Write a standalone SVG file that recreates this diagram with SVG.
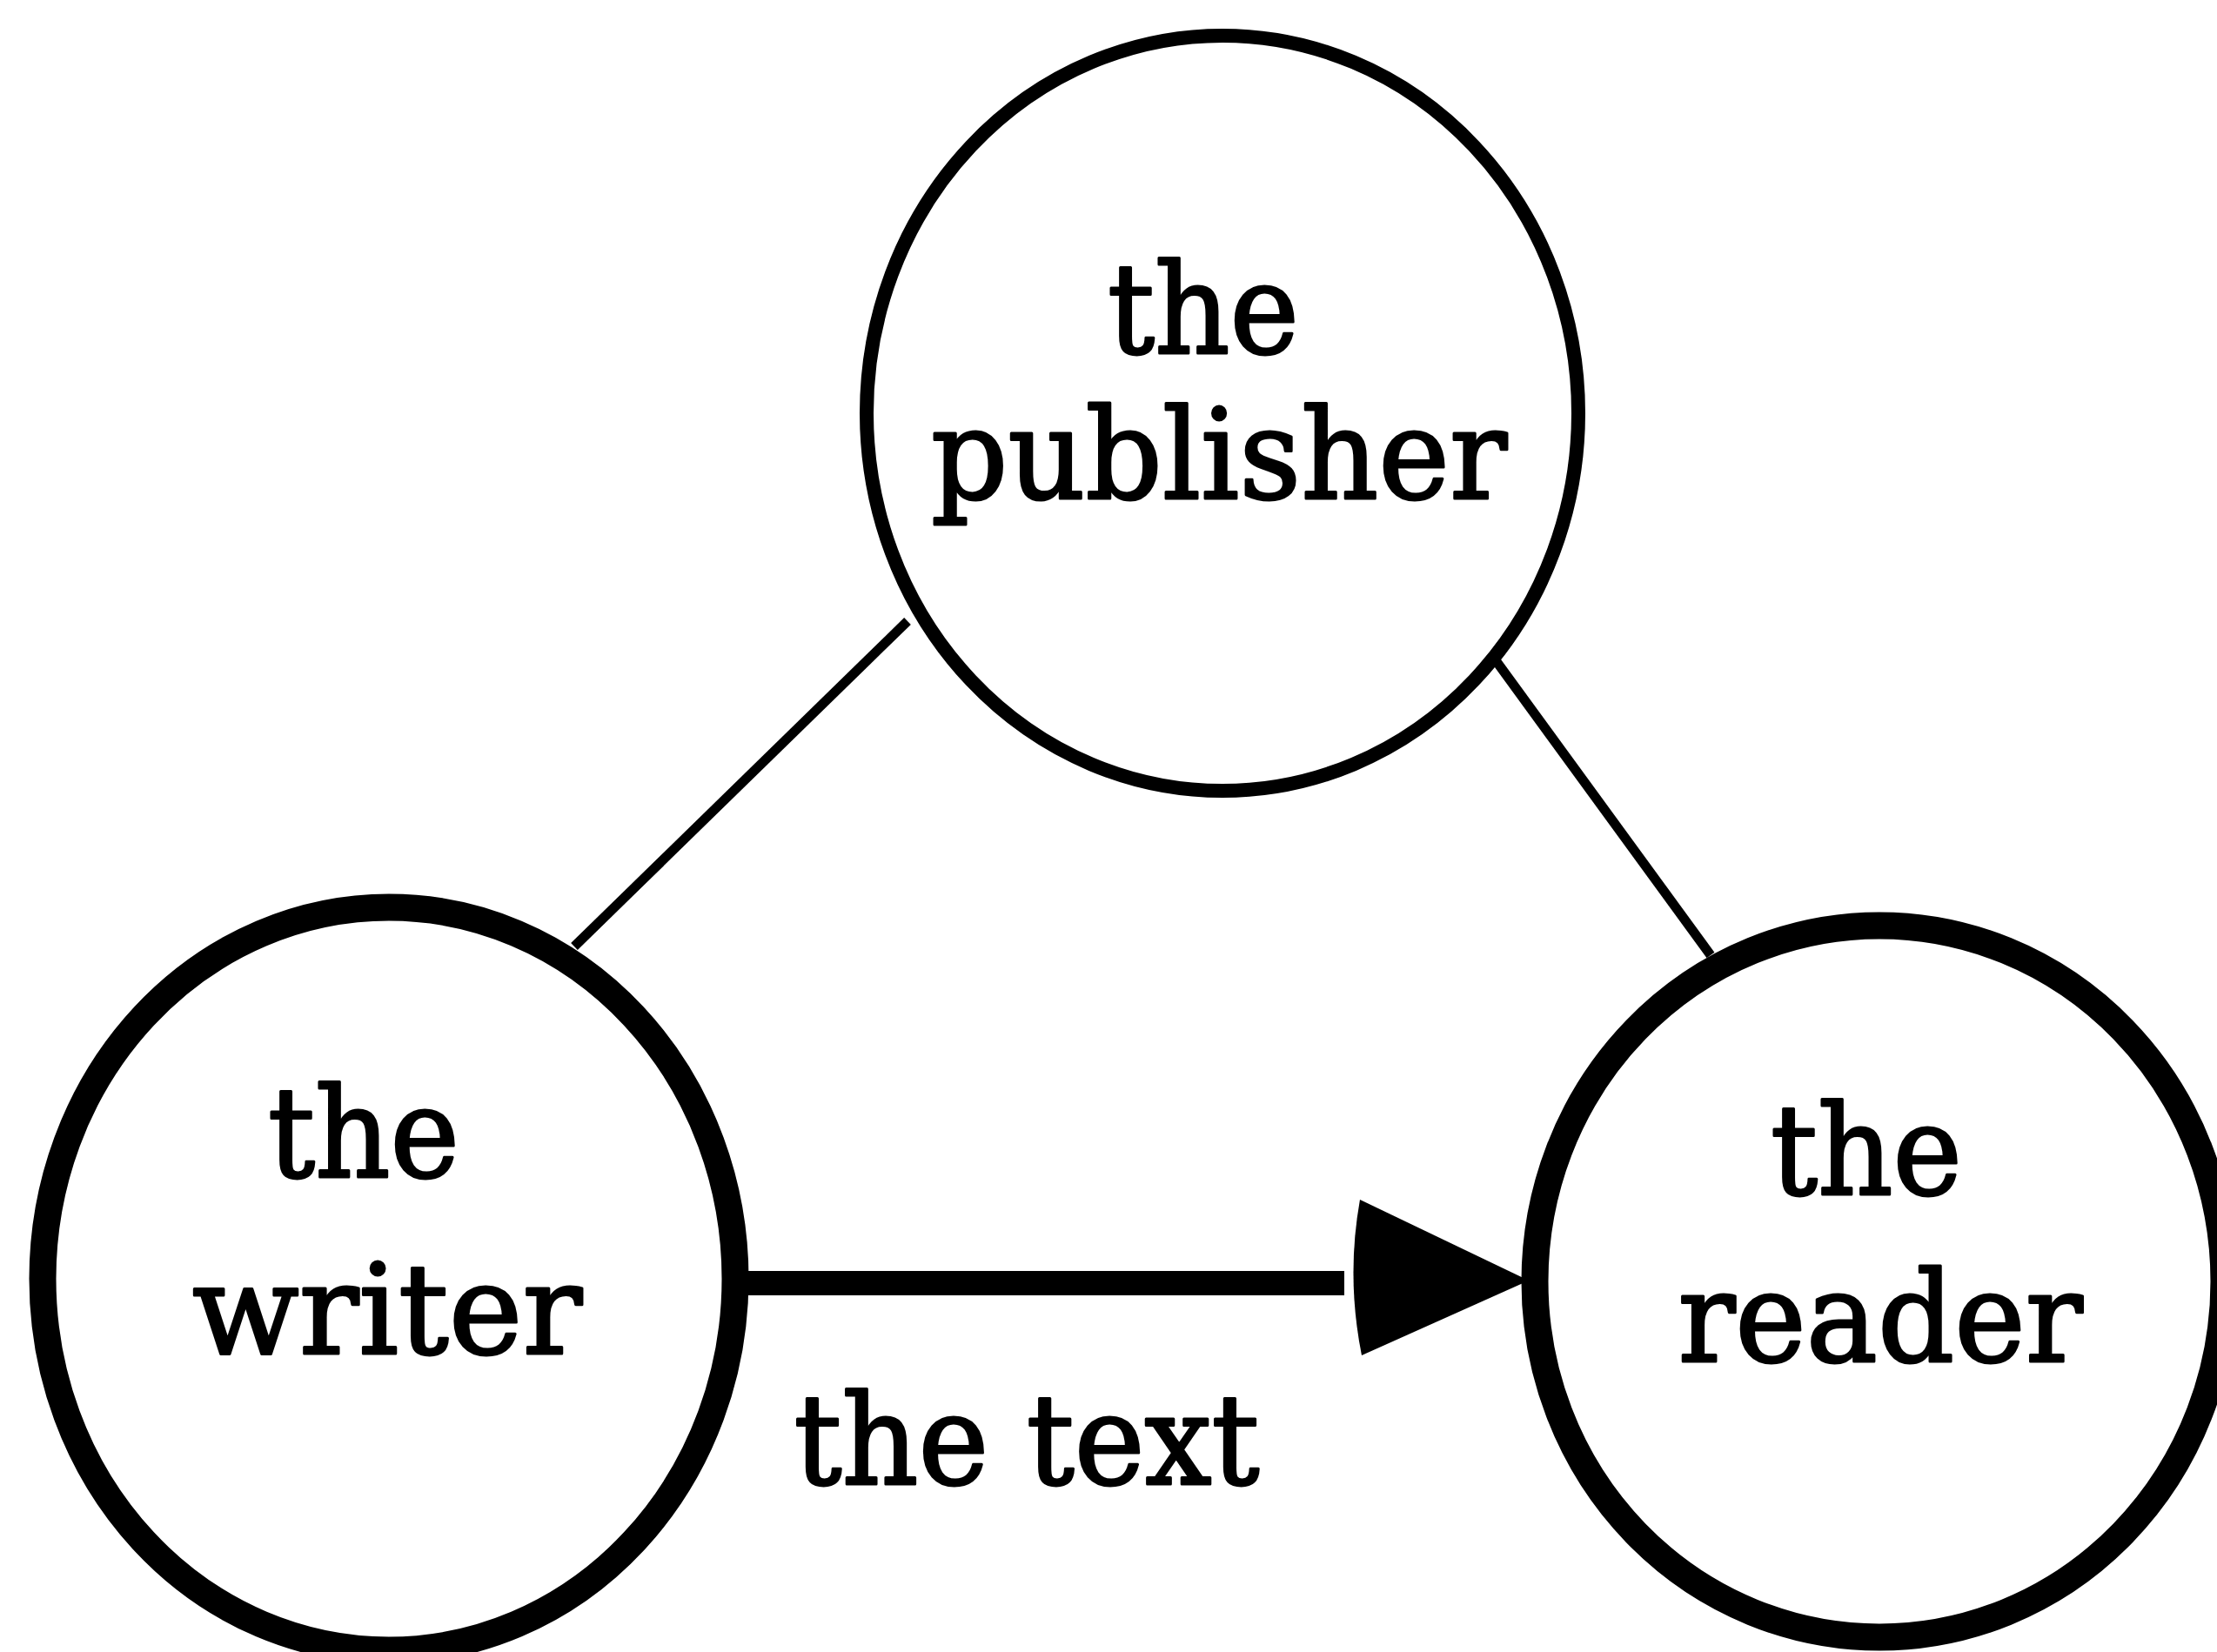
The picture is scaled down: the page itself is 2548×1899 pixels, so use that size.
<svg xmlns="http://www.w3.org/2000/svg" width="2548" height="1899" viewBox="0 0 2548 1899">
  <style>
    .node-thin { fill: #fff; stroke: #000; stroke-width: 16; }
    .node-thick { fill: #fff; stroke: #000; stroke-width: 31; }
    .link { stroke: #000; stroke-width: 11; fill: none; }
    .flow { stroke: #000; stroke-width: 28; fill: none; }
    .label { font-family: "DejaVu Serif", "Liberation Serif", serif; font-size: 145px; fill: #000; stroke: #000; stroke-width: 3; stroke-linejoin: round; text-anchor: middle; }
  </style>
  <defs>
    <!-- filled triangular head with a slightly bowed base -->
    <marker id="head" markerUnits="userSpaceOnUse" markerWidth="240" markerHeight="200" viewBox="-25 -100 240 200" refX="0" refY="0" orient="auto" overflow="visible">
      <path d="M18,-96 Q2,-7 20,83 L212,-3 Z" fill="#000"/>
    </marker>
  </defs>

  <rect width="2548" height="1899" fill="#fff"/>

  <!-- connectors -->
  <g id="connectors">
    <line class="link" x1="660" y1="1088" x2="1043" y2="714"/>
    <line class="link" x1="1716" y1="755" x2="1966" y2="1098"/>
    <line class="flow" x1="845" y1="1475" x2="1545" y2="1475" marker-end="url(#head)"/>
    <text class="label" x="1180" y="1706" textLength="535" lengthAdjust="spacingAndGlyphs">the text</text>
  </g>

  <!-- the publisher -->
  <g id="publisher">
    <ellipse class="node-thin" cx="1405" cy="475" rx="409" ry="434"/>
    <text class="label" x="1383" y="406" textLength="220" lengthAdjust="spacingAndGlyphs">the</text>
    <text class="label" x="1401" y="573" textLength="662" lengthAdjust="spacingAndGlyphs">publisher</text>
  </g>

  <!-- the writer -->
  <g id="writer">
    <ellipse class="node-thick" cx="447" cy="1470" rx="398" ry="427"/>
    <text class="label" x="418" y="1353" textLength="220" lengthAdjust="spacingAndGlyphs">the</text>
    <text class="label" x="445" y="1556" textLength="448" lengthAdjust="spacingAndGlyphs">writer</text>
  </g>

  <!-- the reader -->
  <g id="reader">
    <ellipse class="node-thick" cx="2160" cy="1473" rx="396" ry="409"/>
    <text class="label" x="2145" y="1373" textLength="220" lengthAdjust="spacingAndGlyphs">the</text>
    <text class="label" x="2161" y="1565" textLength="465" lengthAdjust="spacingAndGlyphs">reader</text>
  </g>
</svg>
